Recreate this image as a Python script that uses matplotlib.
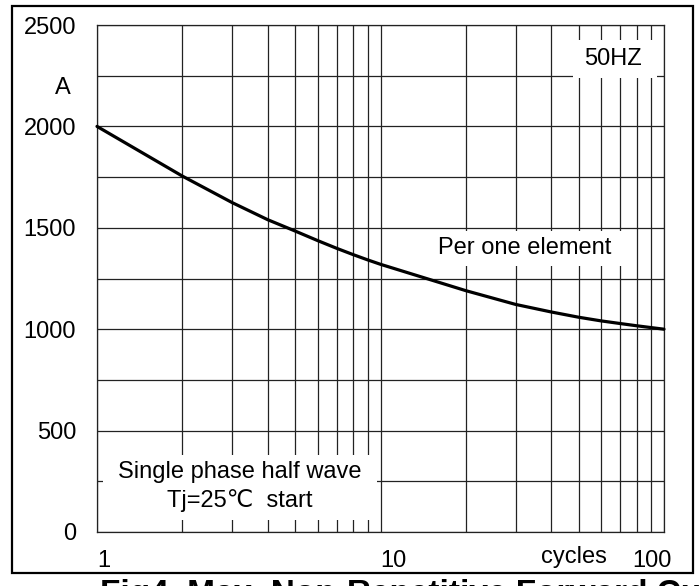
import matplotlib.pyplot as plt
import matplotlib.transforms as mtransforms
from matplotlib.patches import Rectangle
from matplotlib.ticker import NullFormatter

# surge current vs. number of cycles
cycles = [1, 2, 3, 4, 5, 6, 7, 8, 9, 10, 20, 30, 40, 50, 60, 70, 80, 90, 100]
current = [2000, 1755, 1624, 1540, 1484, 1437, 1399, 1368, 1342, 1320,
           1190, 1122, 1085, 1059, 1041, 1028, 1017, 1008, 1000]

y_ticks = [0, 500, 1000, 1500, 2000, 2500]
y_grid = list(range(0, 2501, 250))
x_ticks = [1, 10, 100]
x_tick_labels = ['1', '10', '100']

plt.rcParams['font.family'] = ['Liberation Sans', 'DejaVu Sans']

W, H = 699, 586
fig = plt.figure(figsize=(W / 100, H / 100), dpi=100)
L, R, T, B = 97, 664, 25, 532
ax = fig.add_axes([L / W, 1 - B / H, (R - L) / W, (B - T) / H])


def ax_frac(px, py):
    # figure pixel (from top-left) -> axes fraction
    return (px - L) / (R - L), (B - py) / (B - T)


ax.set_xscale('log')
ax.set_xlim(1, 100)
ax.set_ylim(0, 2500)
ax.set_yticks(y_ticks)
ax.set_yticks(y_grid, minor=True)
ax.set_xticks(x_ticks)
ax.set_xticklabels(x_tick_labels)
ax.xaxis.set_minor_formatter(NullFormatter())
ax.grid(which='both', color='#222222', lw=0.9)
ax.tick_params(which='both', length=0)
ax.tick_params(axis='y', pad=15, labelsize=17)
ax.tick_params(axis='x', pad=13, labelsize=17)
for sp in ax.spines.values():
    sp.set_linewidth(0.9)
    sp.set_color('#222222')

# tick label alignment like the original sheet
xl = ax.get_xticklabels()
xl[0].set_ha('left')
xl[1].set_ha('left')
xl[2].set_ha('right')
xl[2].set_transform(xl[2].get_transform() +
                    mtransforms.ScaledTranslation(8 / 100, 0, fig.dpi_scale_trans))

ax.plot(cycles, current, color='black', lw=2.3, solid_capstyle='round',
        solid_joinstyle='round', clip_on=False, zorder=3)

# white label boxes that hide the grid
boxes = [(573, 40, 657, 78), (425, 231, 628, 266), (103, 455, 377, 520)]
for x0, y0, x1, y1 in boxes:
    fx0, fy1 = ax_frac(x0, y0)
    fx1, fy0 = ax_frac(x1, y1)
    ax.add_patch(Rectangle((fx0, fy0), fx1 - fx0, fy1 - fy0, transform=ax.transAxes,
                           facecolor='white', edgecolor='none', zorder=2))

fs = 17
ax.text(*ax_frac(613, 59), '50HZ', transform=ax.transAxes, ha='center', va='center',
        fontsize=fs, zorder=4)
ax.text(*ax_frac(525, 248), 'Per one element', transform=ax.transAxes,
        ha='center', va='center', fontsize=fs, zorder=4)
ax.text(*ax_frac(240, 472), 'Single phase half wave', transform=ax.transAxes,
        ha='center', va='center', fontsize=fs, zorder=4)
ax.text(*ax_frac(240, 501), 'Tj=25\u2103  start', transform=ax.transAxes,
        ha='center', va='center', fontsize=fs, zorder=4,
        family=['Liberation Sans', 'DejaVu Sans'])
ax.text(*ax_frac(574, 557), 'cycles', transform=ax.transAxes,
        ha='center', va='center', fontsize=fs, clip_on=False)
fig.text(63 / W, 1 - 88 / H, 'A', ha='center', va='center', fontsize=fs)

# outer frame and (cropped) caption
fig.patches.append(Rectangle((12 / W, 1 - 573 / H), 681 / W, 567 / H,
                             transform=fig.transFigure, fill=False,
                             edgecolor='black', lw=1.6))
fig.text(100 / W, 1 - 603 / H, 'Fig4. Max. Non-Repetitive Forward Current',
         fontsize=24, fontweight='bold', ha='left', va='baseline')

fig.savefig('out.png', dpi=100)
